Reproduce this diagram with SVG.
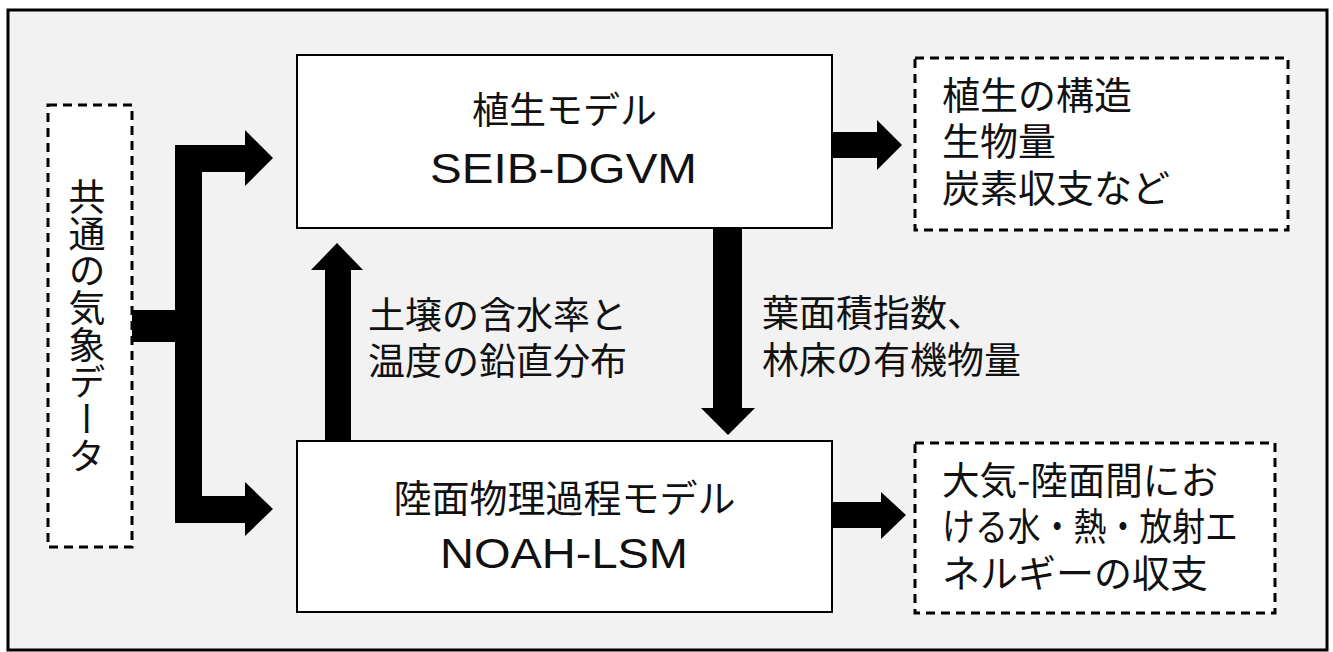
<svg xmlns="http://www.w3.org/2000/svg" width="1333" height="652" viewBox="0 0 1333 652">
<style>
.frame{fill:#f2f2f2;stroke:#000;stroke-width:3}
.box{fill:#fff;stroke:#000;stroke-width:2}
.dbox{fill:#fff;stroke:#000;stroke-width:3;stroke-dasharray:9 6}
.jp{font-family:"Noto Sans CJK JP","Noto Sans CJK SC",sans-serif;fill:#111}
.en{font-family:"Liberation Sans",Arial,sans-serif;fill:#111}
.arr{fill:#000}
</style>
<rect width="1333" height="652" fill="#fff"/>
<rect class="frame" x="8" y="10" width="1319" height="640"/>
<g id="node-weather">
<rect class="dbox" x="48" y="105" width="84" height="442"/>
<text class="jp" x="87" y="326" font-size="37" text-anchor="middle" style="writing-mode:vertical-rl">共通の気象データ</text>
</g>
<g id="node-seib">
<rect class="box" x="297" y="55" width="535" height="173"/>
<text class="jp" x="564.5" y="124" font-size="37" text-anchor="middle">植生モデル</text>
<text class="en" x="430" y="183" font-size="43" textLength="267" lengthAdjust="spacingAndGlyphs">SEIB-DGVM</text>
</g>
<g id="node-noah">
<rect class="box" x="297" y="441" width="535" height="171"/>
<text class="jp" x="564.5" y="512" font-size="38" text-anchor="middle">陸面物理過程モデル</text>
<text class="en" x="440" y="568" font-size="43" textLength="248" lengthAdjust="spacingAndGlyphs">NOAH-LSM</text>
</g>
<g id="node-veg-out">
<rect class="dbox" x="915" y="58" width="373" height="172"/>
<text class="jp" font-size="38" x="942" y="109">植生の構造</text>
<text class="jp" font-size="38" x="942" y="155">生物量</text>
<text class="jp" font-size="38" x="942" y="202">炭素収支など</text>
</g>
<g id="node-energy-out">
<rect class="dbox" x="915" y="443" width="360" height="170"/>
<text class="jp" font-size="38" x="942" y="494" textLength="276" lengthAdjust="spacingAndGlyphs">大気-陸面間にお</text>
<text class="jp" font-size="38" x="942" y="540" textLength="296" lengthAdjust="spacingAndGlyphs">ける水・熱・放射エ</text>
<text class="jp" font-size="38" x="942" y="587">ネルギーの収支</text>
</g>
<g id="label-soil">
<text class="jp" font-size="37" x="368" y="329">土壌の含水率と</text>
<text class="jp" font-size="37" x="368" y="375">温度の鉛直分布</text>
</g>
<g id="label-lai">
<text class="jp" font-size="37" x="762" y="327">葉面積指数、</text>
<text class="jp" font-size="37" x="762" y="374">林床の有機物量</text>
</g>
<g id="connectors">
<rect class="arr" x="132" y="310" width="45" height="32"/>
<path class="arr" d="M175,145 L245,145 L245,130 L273,158 L245,186 L245,172 L202,172 L202,496 L245,496 L245,482 L273,509 L245,536 L245,523 L175,523 Z"/>
<path class="arr" d="M325,441 L325,270 L311,270 L337,243 L363,270 L351,270 L351,441 Z"/>
<path class="arr" d="M713,228 L713,408 L701,408 L728,435 L755,408 L742,408 L742,228 Z"/>
<path class="arr" d="M832,132 L877,132 L877,120 L902,145 L877,170 L877,158 L832,158 Z"/>
<path class="arr" d="M832,502 L881,502 L881,492 L906,515 L881,539 L881,528 L832,528 Z"/>
</g>
</svg>
